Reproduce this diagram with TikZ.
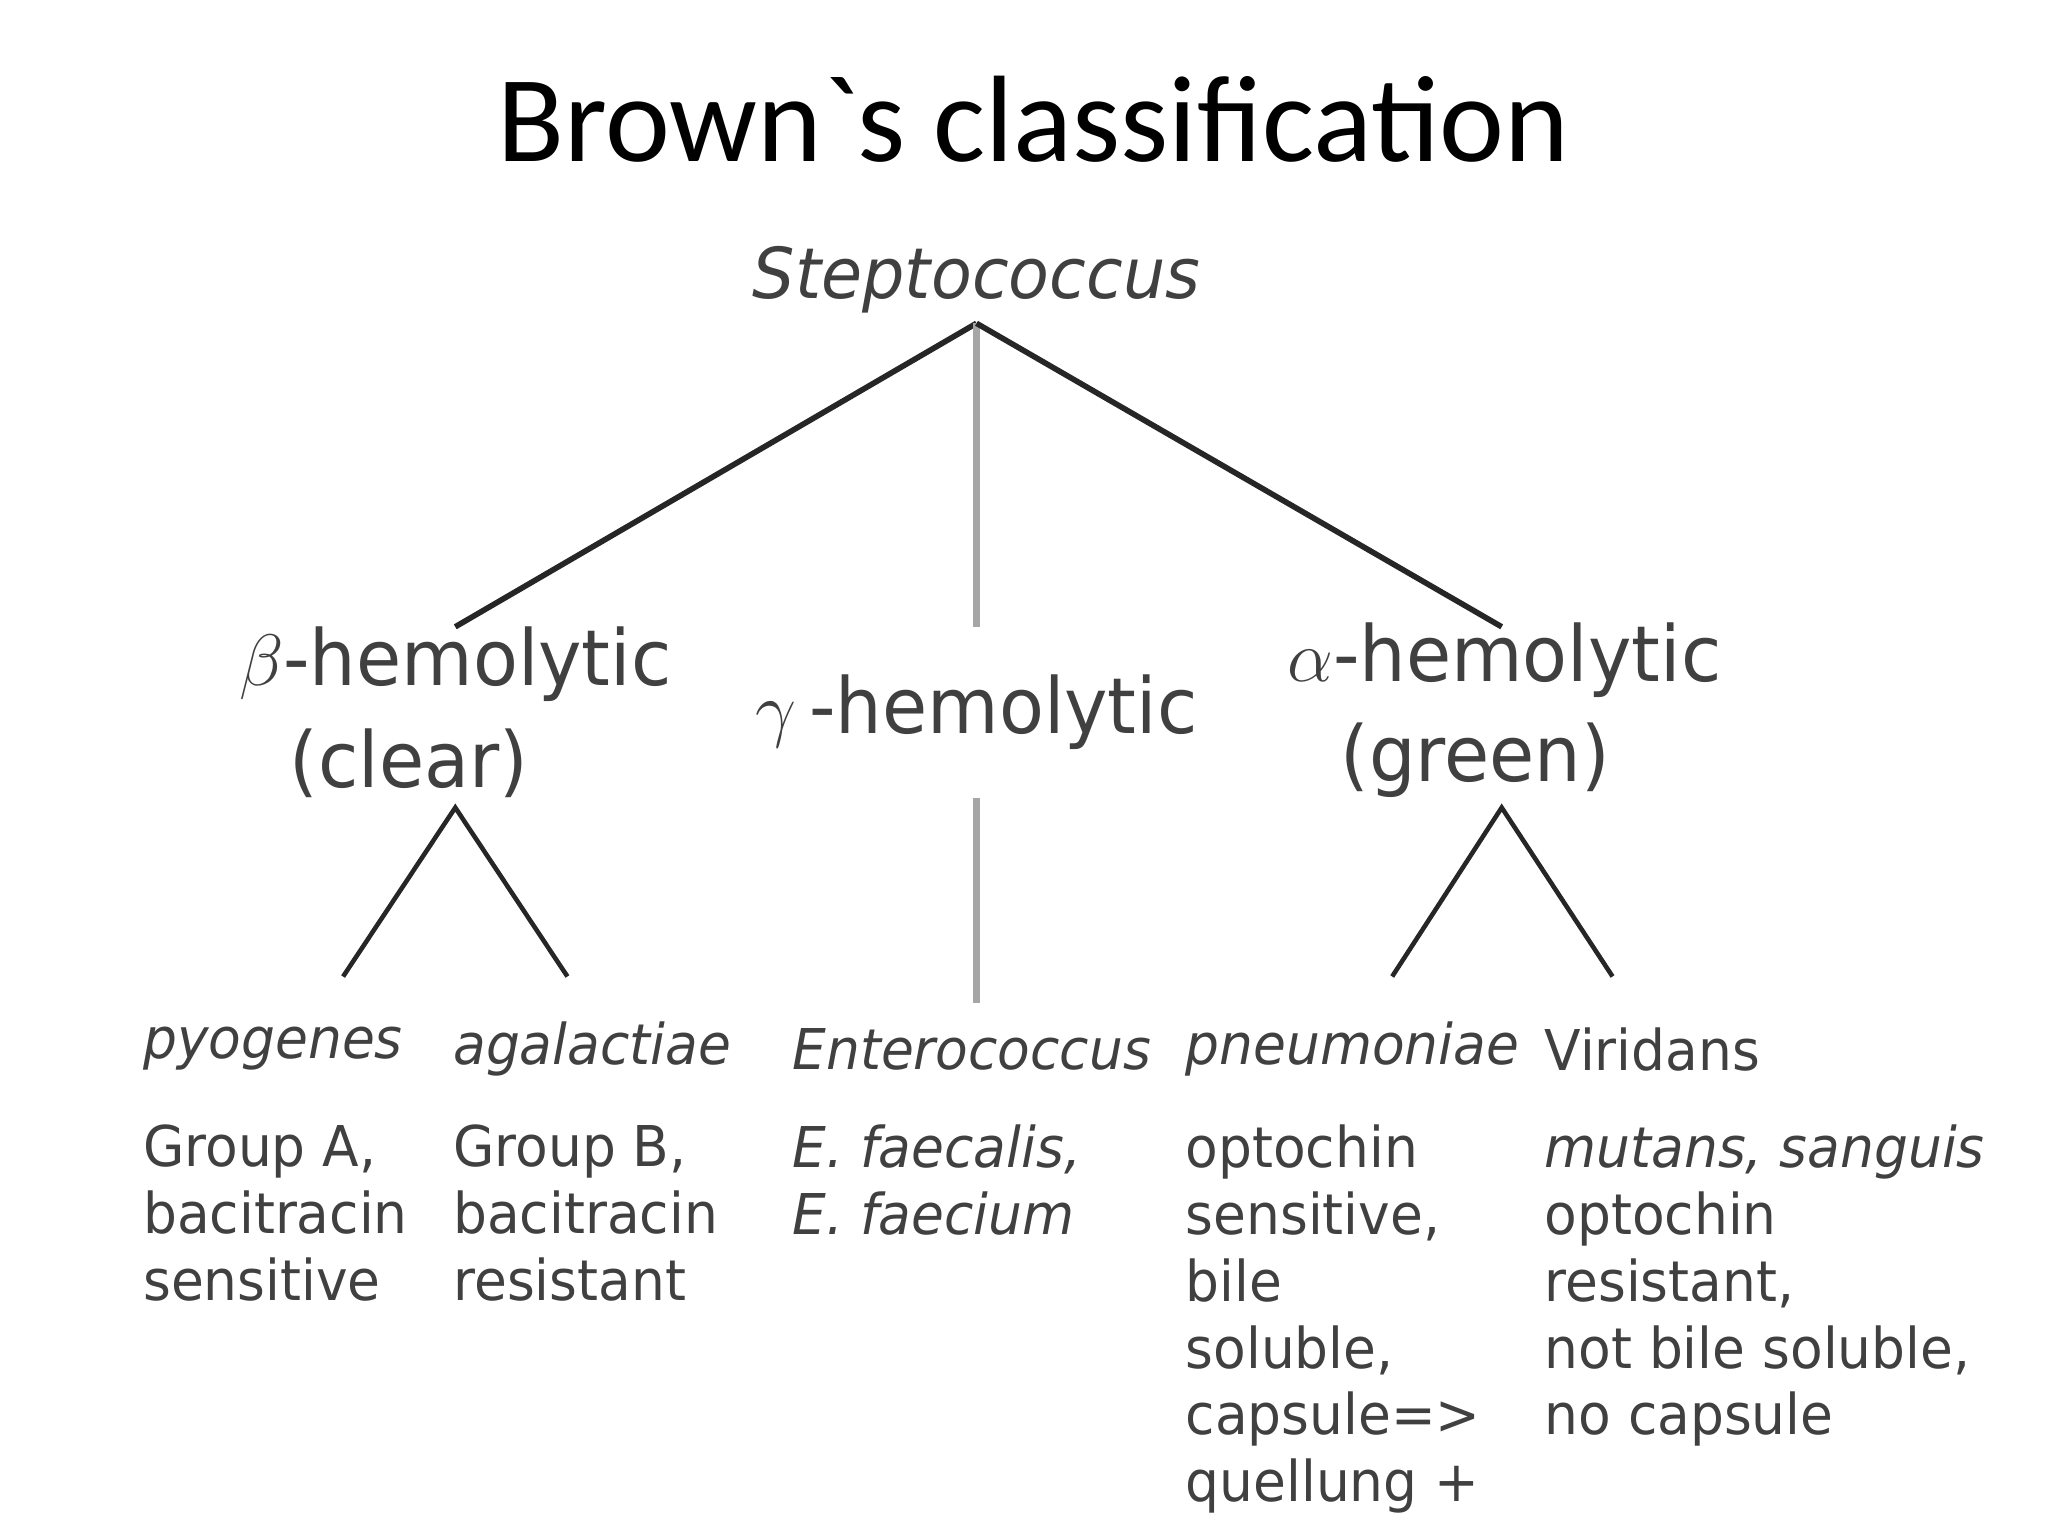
\documentclass[tikz,border=0pt]{standalone}
\usepackage{fontspec}
\setmainfont{DejaVu Sans}[FakeStretch=0.95]
\newfontfamily\titlefont{Carlito}
\begin{document}
\begin{tikzpicture}[x=0.0132cm,y=-0.0132cm,
  lbl/.style={inner sep=0pt,text=black!75,font=\fontsize{16}{19}\selectfont},
  desc/.style={lbl,anchor=north west,align=left},
  mid/.style={inner sep=0pt,text=black!75,font=\fontsize{22}{28}\selectfont,align=center},
  br/.style={line width=1.6pt,black!85},
  gr/.style={line width=2pt,black!35}]
\useasboundingbox (0,0) rectangle (1552,1164);
\node[inner sep=0pt,font=\titlefont\fontsize{35}{40}\selectfont] (title) at (783,90) {Brown`s classification};
\node[inner sep=0pt,text=black!75,font=\itshape\fontsize{20}{24}\selectfont] (root) at (740,212) {Steptococcus};
\coordinate (r) at (740,245);
\coordinate (b) at (345,475);
\coordinate (g) at (740,475);
\coordinate (a) at (1138,475);
\draw[br] (r) -- (b); \draw[gr] (r) -- (g); \draw[br] (r) -- (a);
\node[mid] (beta) at (345,503) {$\beta$-hemolytic};
\node[mid] (clear) at (310,578) {(clear)};
\node[mid] (gamma) at (740,540) {$\gamma$\,-hemolytic};
\node[mid] (alpha) at (1140,500) {$\alpha$-hemolytic};
\node[mid] (green) at (1118,576) {(green)};
\coordinate (bt) at (345,612); \coordinate (b1) at (260,740); \coordinate (b2) at (430,740);
\coordinate (at) at (1138,612); \coordinate (a1) at (1055,740); \coordinate (a2) at (1222,740);
\coordinate (gt) at (740,605); \coordinate (gb) at (740,760);
\draw[line width=1.3pt,black!85] (b1) -- (bt) -- (b2);
\draw[line width=1.3pt,black!85] (a1) -- (at) -- (a2);
\draw[gr] (gt) -- (gb);
\node[lbl,anchor=west,font=\itshape\fontsize{16}{19}\selectfont] (pyo) at (108,795) {pyogenes};
\node[lbl,anchor=west,font=\itshape\fontsize{16}{19}\selectfont] (aga) at (343,795) {agalactiae};
\node[lbl,anchor=west,font=\itshape\fontsize{16}{19}\selectfont] (ent) at (600,795) {Enterococcus};
\node[lbl,anchor=west,font=\itshape\fontsize{16}{19}\selectfont] (pne) at (898,795) {pneumoniae};
\node[lbl,anchor=west] (vir) at (1170,795) {Viridans};
\node[desc] (d1) at (108,852) {Group A,\\bacitracin\\sensitive};
\node[desc] (d2) at (343,852) {Group B,\\bacitracin\\resistant};
\node[desc,font=\itshape\fontsize{16}{19}\selectfont] (d3) at (600,852) {E. faecalis,\\E. faecium};
\node[desc] (d4) at (898,852) {optochin\\sensitive,\\bile\\soluble,\\capsule=>\\quellung +};
\node[desc] (d5) at (1170,852) {\textit{mutans, sanguis}\\optochin\\resistant,\\not bile soluble,\\no capsule};
\end{tikzpicture}
\end{document}
